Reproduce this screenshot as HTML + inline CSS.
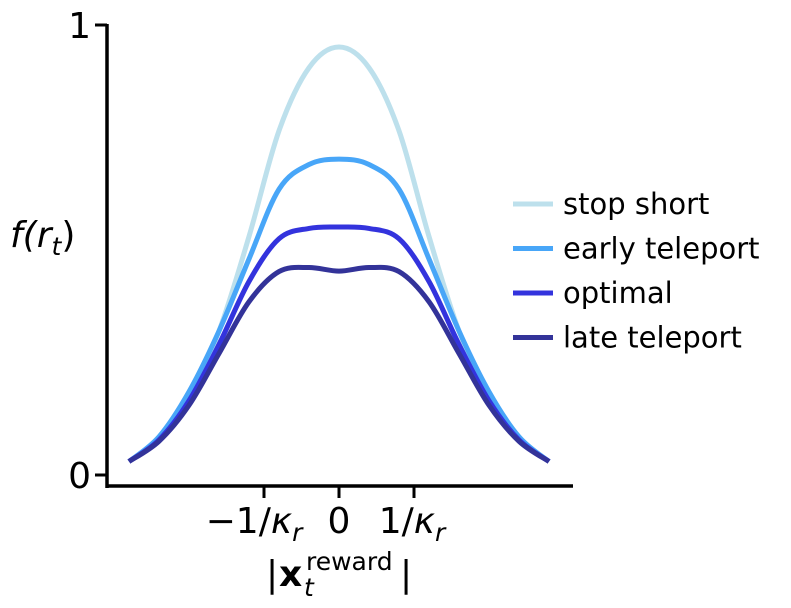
<!DOCTYPE html>
<html><head><meta charset="utf-8"><style>
body{margin:0;background:#fff;}
svg{display:block;font-family:"DejaVu Sans","Liberation Sans",sans-serif;}
</style></head><body>
<svg id="chart" width="791" height="608">
<g id="curves"></g>
<line x1="107" y1="24" x2="107" y2="488" stroke="#000" stroke-width="3.5"/>
<line x1="105.5" y1="486" x2="573" y2="486" stroke="#000" stroke-width="3.5"/>
<g id="ticks"></g>
<text x="10" y="247" font-size="36" font-style="italic">f(r<tspan font-size="25" dy="8">t</tspan><tspan dy="-8" font-style="normal">)</tspan></text>
<g font-size="36">
<text x="266" y="586">|</text>
<text x="279" y="586" font-weight="bold">x</text>
<text x="306" y="570" font-size="25">reward</text>
<text x="304" y="596" font-size="25" font-style="italic">t</text>
<text x="400" y="586">|</text>
</g>
<g id="legend"></g>
</svg>
<script>
const xs=[-2.8,-2.4,-2.0,-1.6,-1.2,-0.8,-0.4,0,0.4,0.8,1.2,1.6,2.0,2.4,2.8];
const stopShort=[0.03,0.08,0.175,0.32,0.53,0.765,0.905,0.951,0.905,0.765,0.53,0.32,0.175,0.08,0.03];
const earlyTeleport=[0.03,0.085,0.185,0.32,0.48,0.635,0.69,0.702,0.69,0.635,0.48,0.32,0.185,0.085,0.03];
const optimal=[0.03,0.078,0.165,0.29,0.43,0.525,0.548,0.551,0.548,0.525,0.43,0.29,0.165,0.078,0.03];
const lateTeleport=[0.03,0.075,0.155,0.27,0.385,0.452,0.461,0.453,0.461,0.452,0.385,0.27,0.155,0.075,0.03];
const seriesNames=["stop short","early teleport","optimal","late teleport"];
const seriesColors=["#bde0ec","#48a6f8","#3333dd","#333399"];
const xTickVals=[-1,0,1];
const xTickLabels=["−1/","0","1/"];
const yTickVals=[0,1];
const yTickLabels=["0","1"];
const sx=v=>339+75*v, sy=v=>475-450*v;
const NS="http://www.w3.org/2000/svg";
function path(ys){
  const p=xs.map((x,i)=>[sx(x),sy(ys[i])]);
  let d="M"+p[0][0]+","+p[0][1];
  for(let i=0;i<p.length-1;i++){
    const p0=p[Math.max(0,i-1)],p1=p[i],p2=p[i+1],p3=p[Math.min(p.length-1,i+2)];
    d+=" C"+(p1[0]+(p2[0]-p0[0])/6)+","+(p1[1]+(p2[1]-p0[1])/6)+" "+(p2[0]-(p3[0]-p1[0])/6)+","+(p2[1]-(p3[1]-p1[1])/6)+" "+p2[0]+","+p2[1];
  }
  return d;
}
const all=[stopShort,earlyTeleport,optimal,lateTeleport];
const cg=document.getElementById("curves"), lg=document.getElementById("legend");
all.forEach((ys,i)=>{
  const el=document.createElementNS(NS,"path");
  el.setAttribute("d",path(ys));el.setAttribute("fill","none");
  el.setAttribute("stroke",seriesColors[i]);el.setAttribute("stroke-width","5");
  
  
  cg.appendChild(el);
  const y=204+44.5*i;
  const g=document.createElementNS(NS,"g");
  
  
  g.innerHTML='<line x1="513" x2="553" y1="'+y+'" y2="'+y+'" stroke="'+seriesColors[i]+'" stroke-width="5"/><text x="563" y="'+(y+10)+'" font-size="29">'+seriesNames[i]+'</text>';
  lg.appendChild(g);
});
const tg=document.getElementById("ticks");
xTickVals.forEach((v,i)=>{
  const g=document.createElementNS(NS,"g");
  
  
  const x=sx(v);
  const lab=xTickLabels[i];
  let t=lab==="0"?lab:lab+'<tspan font-style="italic">κ</tspan><tspan font-size="25" font-style="italic" dy="8">r</tspan>';
  const w=lab==="0"?0:(lab.length===3?-10:-2);
  g.innerHTML='<line x1="'+x+'" x2="'+x+'" y1="486" y2="498" stroke="#000" stroke-width="3"/><text x="'+(x+w)+'" y="533" font-size="36" text-anchor="middle">'+t+'</text>';
  tg.appendChild(g);
});
yTickVals.forEach((v,i)=>{
  const g=document.createElementNS(NS,"g");
  
  
  const y=sy(v);
  g.innerHTML='<line x1="95" x2="107" y1="'+y+'" y2="'+y+'" stroke="#000" stroke-width="3"/><text x="91" y="'+(y+13)+'" font-size="36" text-anchor="end">'+yTickLabels[i]+'</text>';
  tg.appendChild(g);
});
</script>
</body></html>
